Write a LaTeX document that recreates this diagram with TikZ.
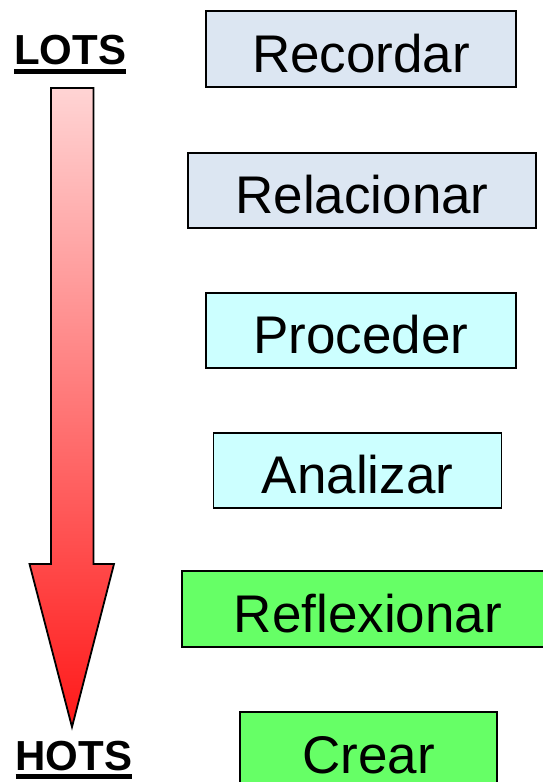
\documentclass[tikz,border=0pt]{standalone}
\usepackage{fontspec}
\setmainfont{Liberation Sans}
\definecolor{lotsfill}{RGB}{220,230,242}
\definecolor{midfill}{RGB}{204,255,255}
\definecolor{hotsfill}{RGB}{102,255,102}
\definecolor{arrowtop}{RGB}{255,212,212}
\definecolor{arrowbot}{RGB}{255,25,25}
\newcommand{\myul}[2]{\setbox0\hbox{#2}\rlap{\rule[#1]{\wd0}{5pt}}\box0}
\begin{document}
\begin{tikzpicture}[x=1pt,y=-1pt,
  level/.style={draw=black, line width=1.5pt, inner sep=0pt,
    font=\fontsize{53}{60}\selectfont, text height=46pt, text depth=0pt},
  lotsbox/.style={level, fill=lotsfill},
  midbox/.style={level, fill=midfill},
  hotsbox/.style={level, fill=hotsfill},
  endlabel/.style={inner sep=0pt, anchor=base, font=\fontsize{42}{48}\selectfont\bfseries},
  bigarrow/.style={draw=black, line width=1.8pt, top color=arrowtop, bottom color=arrowbot}]
\useasboundingbox (0,0) rectangle (543,782);
% level boxes
\node[lotsbox, minimum width=310pt, minimum height=76pt] (recordar) at (361,49) {Recordar};
\node[lotsbox, minimum width=348pt, minimum height=75pt] (relacionar) at (362,190.5) {Relacionar};
\node[midbox, minimum width=310pt, minimum height=75pt] (proceder) at (361,330.5) {Proceder};
\node[midbox, minimum width=288pt, minimum height=75pt] (analizar) at (357.5,470.5) {Analizar};
\node[hotsbox, minimum width=372pt, minimum height=76pt] (reflexionar) at (368,609) {Reflexionar};
\node[hotsbox, minimum width=257pt, minimum height=76pt] (crear) at (368.5,750) {Crear};
% end labels
\node[endlabel] (lots) at (70,64) {\myul{-10pt}{LOTS}};
\node[endlabel] (hots) at (74,770) {\myul{-9pt}{HOTS}};
% big arrow
\coordinate (shafttop) at (72,88);
\coordinate (tip) at (72,727);
\path[bigarrow] ([xshift=-21pt]shafttop) -- ([xshift=21.5pt]shafttop)
  -- ([xshift=21.5pt]shafttop |- 0,564) -- (114,564) -- (tip)
  -- (29.5,564) -- ([xshift=-21pt]shafttop |- 0,564) -- cycle;
\end{tikzpicture}
\end{document}
